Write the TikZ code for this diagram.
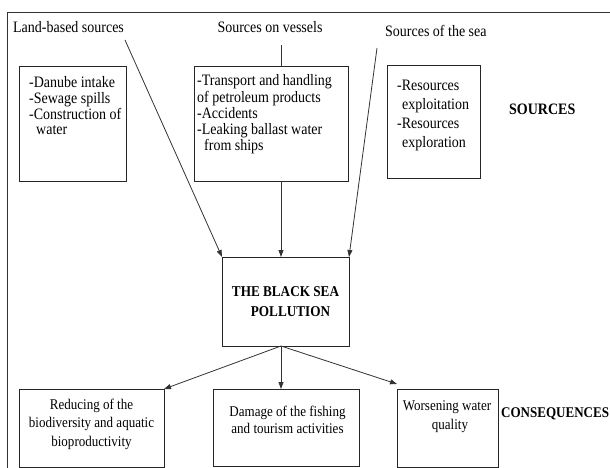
\documentclass[tikz,border=0pt]{standalone}
\usepackage{fontspec}
\setmainfont[FakeStretch=0.88]{Liberation Serif}
\usetikzlibrary{arrows.meta}
\begin{document}
\begin{tikzpicture}[x=1pt,y=-1pt,
  box/.style={draw=black!85, line width=0.8pt, inner sep=0pt, outer sep=0pt},
  ln/.style={draw=black!80, line width=0.8pt},
  arr/.style={ln, -{Triangle[length=7pt,width=5pt]}},
  lbl/.style={inner sep=0pt, font=\fontsize{15.9}{16}\selectfont},
  hd/.style={inner sep=0pt, font=\fontsize{15.9}{16}\selectfont\bfseries},
  btxt/.style={inner sep=0pt, anchor=base}
]
\useasboundingbox (0,0) rectangle (610,468);
% frame
\draw[ln] (610,12) -- (7,12) -- (7,468);

% top labels
\node[lbl, anchor=base west] (lland) at (13,33) {Land-based sources};
\node[lbl, anchor=base] (lves) at (270,33) {Sources on vessels};
\node[lbl, anchor=base west] (lsea) at (385,36.5) {Sources of the sea};
\node[hd, anchor=base west] (hsrc) at (509,114.5) {SOURCES};

% source boxes
\node[box, minimum width=107pt, minimum height=115pt] (land) at (72.5,123.5) {};
\node[box, minimum width=154pt, minimum height=115pt] (mid) at (271,123.5) {};
\node[box, minimum width=93pt, minimum height=113pt] (res) at (433.5,121.5) {};

\node[btxt, anchor=base west, font=\fontsize{15.9}{15.7}\selectfont] (tland) at (29,87.5)
  {\begin{tabular}[t]{@{}l@{}}-Danube intake\\-Sewage spills\\-Construction of\\\hspace{7pt}water\end{tabular}};
\node[btxt, anchor=base west, font=\fontsize{15.9}{16.2}\selectfont] (tmid) at (197,86)
  {\begin{tabular}[t]{@{}l@{}}-Transport and handling\\of petroleum products\\-Accidents\\-Leaking ballast water\\\hspace{7pt}from ships\end{tabular}};
\node[btxt, anchor=base west, font=\fontsize{15.9}{18.7}\selectfont] (tres) at (397,91)
  {\begin{tabular}[t]{@{}l@{}}-Resources\\\hspace{5pt}exploitation\\-Resources\\\hspace{5pt}exploration\end{tabular}};

% central box
\node[box, minimum width=127pt, minimum height=89pt, align=center,
      font=\fontsize{15}{20.6}\selectfont\bfseries] (sea) at (285.5,301.5)
  {THE BLACK SEA\\\hspace{10pt}POLLUTION};

% consequence boxes
\node[box, minimum width=145pt, minimum height=78pt] (c1) at (91.5,428) {};
\node[box, minimum width=146pt, minimum height=77pt] (c2) at (286,427.5) {};
\node[box, minimum width=101pt, minimum height=78pt] (c3) at (447.5,428) {};

\node[btxt, font=\fontsize{14.8}{18.5}\selectfont] (tc1) at (91.5,409)
  {\begin{tabular}[t]{@{}c@{}}Reducing of the\\biodiversity and aquatic\\bioproductivity\end{tabular}};
\node[btxt, font=\fontsize{14.8}{17}\selectfont] (tc2) at (287.5,416)
  {\begin{tabular}[t]{@{}c@{}}Damage of the fishing\\and tourism activities\end{tabular}};
\node[btxt, font=\fontsize{14.8}{19}\selectfont] (tc3) at (447,410)
  {\begin{tabular}[t]{@{}c@{}}Worsening water\\\hspace{6pt}quality\end{tabular}};
\node[inner sep=0pt, anchor=base west, font=\fontsize{14.8}{16}\selectfont\bfseries] (hcons) at (501,417) {CONSEQUENCES};

% connectors
\coordinate (landstart) at (125,40);
\coordinate (vstart) at (281,45);
\coordinate (seastart) at (377,48);
\draw[arr] (landstart) -- (sea.north west);
\draw[ln] (vstart) -- (vstart |- mid.north);
\draw[arr] (vstart |- mid.south) -- (vstart |- sea.north);
\draw[arr] (seastart) -- (sea.north east);
\coordinate (bot) at (vstart |- sea.south);
\draw[arr] (bot) -- (c1.north east);
\draw[arr] (bot) -- (vstart |- c2.north);
\draw[arr] (bot) -- ([yshift=5pt]c3.north west);
\end{tikzpicture}
\end{document}
